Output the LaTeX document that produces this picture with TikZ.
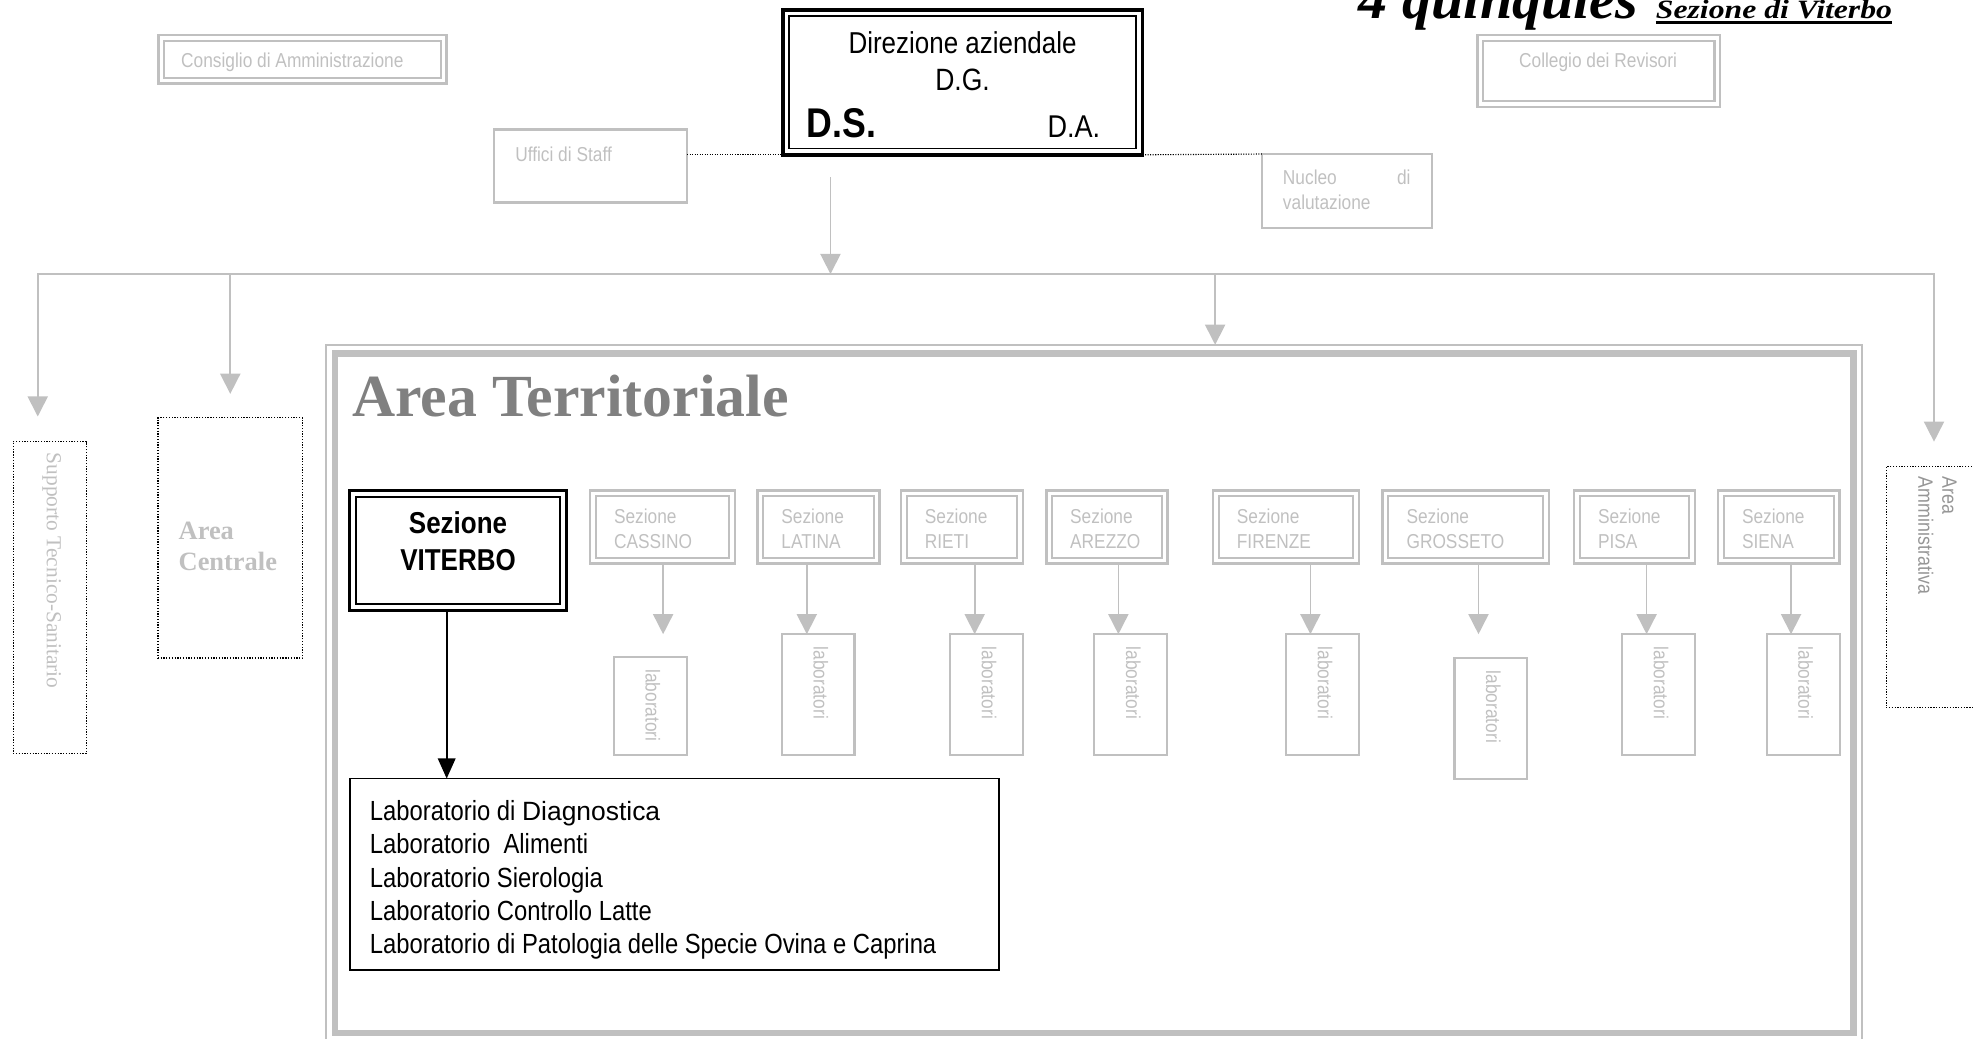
\documentclass[tikz,border=0pt]{standalone}
\usepackage{fontspec}
\setmainfont{Liberation Serif}
\newfontfamily\nar{Liberation Sans}[FakeStretch=0.86]
\newfontfamily\wid{Liberation Sans}
\newfontfamily\ttla{Liberation Serif}[FakeStretch=1.05]
\newfontfamily\ttlb{Liberation Serif}[FakeStretch=1.2]
\usetikzlibrary{arrows.meta,fit}
\definecolor{lg}{RGB}{192,192,192}
\definecolor{mg}{RGB}{128,128,128}
\definecolor{ag}{RGB}{150,150,150}
\begin{document}
\begin{tikzpicture}[x=1pt,y=-1pt,
  every node/.style={inner sep=0pt,outer sep=0pt},
  gl/.style={draw=lg,line width=1.3pt},
  ga/.style={draw=lg,line width=1.3pt,-{Triangle[width=16pt,length=16pt]}},
  ba/.style={draw=black,line width=1.3pt,-{Triangle[width=14pt,length=16pt]}},
  dl/.style={draw=black,line width=0.9pt,dash pattern=on 0.9pt off 1.1pt},
  dotbox/.style={draw=black,line width=1pt,dash pattern=on 1pt off 1.2pt},
  gbox/.style={draw=lg,line width=2pt},
  gin/.style={draw=lg,line width=1.7pt},
  lbox/.style={draw=lg,line width=1.8pt},
  gtxt/.style={font=\nar\fontsize{16}{19.5}\selectfont,text=lg},
]
\useasboundingbox (0,0) rectangle (1568,825.7);
\begin{scope}
\clip (0,0) rectangle (1568,825.7);

% title
\node[font=\ttla\bfseries\itshape\fontsize{44}{44}\selectfont,anchor=base west] (tq) at (1080,14.6) {4 quinquies};
\node[font=\ttlb\bfseries\itshape\fontsize{21}{21}\selectfont,anchor=base west] (tv) at (1316,14.6) {Sezione di Viterbo};
\draw[line width=2.2pt] ([yshift=-3pt]tv.base west) -- ([yshift=-3pt]tv.base east);

% Consiglio
\node[fit={(125.8,28)(354.7,66.2)},gbox] (cda) {};
\draw[gin] ([shift={(4.5,4.5)}]cda.north west) rectangle ([shift={(-4.5,-4.5)}]cda.south east);
\node[gtxt,anchor=base west] (cdat) at (144,54) {Consiglio di Amministrazione};

% Collegio
\node[fit={(1174,28)(1367,85)},gbox] (cdr) {};
\draw[gin] ([shift={(4.5,4.5)}]cdr.north west) rectangle ([shift={(-4.5,-4.5)}]cdr.south east);
\node[gtxt,anchor=base] (cdrt) at (1270,54) {Collegio dei Revisori};

% Direzione
\node[fit={(622,8)(908,123)},draw=black,line width=3pt] (dir) {};
\draw[line width=1.4pt] ([shift={(5,5)}]dir.north west) rectangle ([shift={(-5,-5)}]dir.south east);
\node[font=\nar\fontsize{24}{24}\selectfont,anchor=base] (dirt) at (765,42.4) {Direzione aziendale};
\node[font=\nar\fontsize{24.5}{24}\selectfont,anchor=base] (dg) at (765,72.1) {D.G.};
\node[font=\nar\bfseries\fontsize{33}{33}\selectfont,anchor=base west] (ds) at (641,109.2) {D.S.};
\node[font=\nar\fontsize{25}{25}\selectfont,anchor=base west] (da) at (832.5,109.2) {D.A.};

% Uffici di Staff
\node[fit={(392.6,103)(546,161)},lbox] (uff) {};
\node[gtxt,anchor=base west] (ufft) at (409.5,128.5) {Uffici di Staff};

% Nucleo
\node[fit={(1003,122.4)(1138,181)},lbox] (nuc) {};
\node[gtxt,anchor=base west] (nuc1) at (1019.6,147) {Nucleo};
\node[gtxt,anchor=base east] (nuc2) at (1121,147) {di};
\node[gtxt,anchor=base west] (nuc3) at (1019.6,166.4) {valutazione};

% dotted links
\draw[dl] (uff.east |- dir.south west) -- (dir.south west);
\draw[dl] (dir.south east) -- (nuc.north west);

% Area Territoriale frame
\node[fit={(259,274)(1480,828)},draw=lg,line width=1.3pt] (ater) {};
\draw[lg,line width=5pt] ([shift={(7,7)}]ater.north west) rectangle ([shift={(-7,-7)}]ater.south east);
\node[font=\bfseries\fontsize{47.5}{47.5}\selectfont,text=mg,anchor=base west] (att) at (280,331) {Area Territoriale};

% left column boxes
\node[fit={(10.5,351)(68.5,599)},dotbox] (sts) {};
\node[font=\fontsize{17}{17}\selectfont,text=lg,rotate=-90,anchor=west] (stst) at (41,360) {Supporto Tecnico-Sanitario};
\node[fit={(125.5,332)(240.5,523)},dotbox] (ac) {};
\node[font=\bfseries\fontsize{21}{25}\selectfont,text=lg,align=left,anchor=north west] (act) at (142,414.8) {Area\\Centrale};
\node[fit={(1499,371)(1575,562)},dotbox] (aam) {};
\node[font=\nar\fontsize{16.5}{19}\selectfont,text=ag,rotate=-90,align=left,anchor=north west] (aamt) at (1555,379) {Area\\Amministrativa};

% bus and arrows
\coordinate (dout) at (660,141);
\coordinate (dbus) at (660,217.8);
\coordinate (bl) at (30,217.8);
\coordinate (bc) at (183,217.8);
\coordinate (bt) at (965.7,217.8);
\coordinate (br) at (1537,217.8);
\coordinate (tsts) at (30,331);
\coordinate (tac) at (183,313);
\coordinate (tam) at (1537,351);
\draw[ga] (dout) -- (dbus);
\draw[gl,line cap=rect] (bl) -- (br);
\draw[ga] (bl) -- (tsts);
\draw[ga] (bc) -- (tac);
\draw[ga] (bt) -- (bt |- ater.north);
\draw[ga] (br) -- (tam);

% Sezione VITERBO
\node[fit={(278,390)(450,485)},draw=black,line width=2.5pt] (vit) {};
\draw[line width=1.3pt] ([shift={(5,5)}]vit.north west) rectangle ([shift={(-5,-5)}]vit.south east);
\node[font=\nar\bfseries\fontsize{24}{24}\selectfont,anchor=base] (vit1) at (364,424) {Sezione};
\node[font=\nar\bfseries\fontsize{24}{24}\selectfont,anchor=base] (vit2) at (364,453) {VITERBO};

% Laboratori Viterbo
\node[fit={(278,618.7)(794,771)},draw=black,line width=1.5pt] (lab) {};
\node[font=\nar\fontsize{22}{26.5}\selectfont,align=left,anchor=north west] (labt) at (294,636)
  {Laboratorio di {\wid\fontsize{21}{26.5}\selectfont Diagnostica}\\
   Laboratorio \ Alimenti\\
   Laboratorio Sierologia\\
   Laboratorio Controllo Latte\\
   Laboratorio di Patologia delle Specie Ovina e Caprina};
\coordinate (vx) at (355,500);
\draw[ba] (vit.south -| vx) -- (lab.north -| vx);

% other sezioni
\foreach \n/\a/\b/\c/\ax/\la/\lb/\lt/\lbot in {
  cas/469/584/CASSINO/527/488/545.7/522/600,
  lat/602/699/LATINA/641.2/621.7/679/504/600,
  rie/716/813/RIETI/774.6/755.2/813/504/600,
  are/831.5/928/AREZZO/888.8/869.7/927.6/504/600,
  fir/964/1080/FIRENZE/1041.4/1022/1080/504/600,
  gro/1098.8/1231/GROSSETO/1175/1156/1213.4/523/619,
  pis/1251/1347/PISA/1308.6/1289/1347/504/600,
  sie/1365.4/1462/SIENA/1423.4/1404/1462/504/600}
{
  \node[fit={(\a,390)(\b,448)},gbox] (s\n) {};
  \draw[gin] ([shift={(4.5,4.5)}]s\n.north west) rectangle ([shift={(-4.5,-4.5)}]s\n.south east);
  \node[gtxt,anchor=base west] (sa\n) at (\a+19,416) {Sezione};
  \node[gtxt,anchor=base west] (sb\n) at (\a+19,435.5) {\c};
  \node[fit={(\la,\lt)(\lb,\lbot)},lbox] (l\n) {};
  \node[gtxt,rotate=-90,anchor=west] (lt\n) at ([shift={(2,10)}]l\n.north) {laboratori};
  \coordinate (ta\n) at (\ax,504);
  \draw[ga] (s\n.south -| ta\n) -- (ta\n);
}
\end{scope}
\end{tikzpicture}
\end{document}
